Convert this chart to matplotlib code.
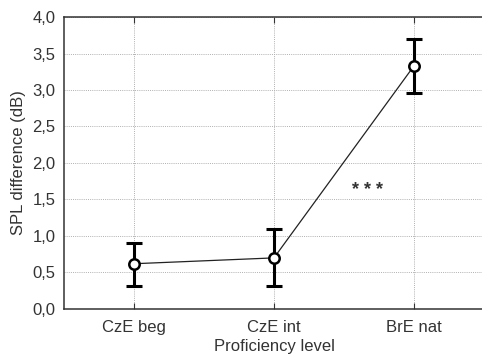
import matplotlib
matplotlib.use("Agg")
import matplotlib.pyplot as plt
from matplotlib.ticker import FuncFormatter

categories = ["CzE beg", "CzE int", "BrE nat"]
means = [0.62, 0.70, 3.33]
upper = [0.90, 1.09, 3.70]
lower = [0.32, 0.32, 2.96]
yticks = [0.0, 0.5, 1.0, 1.5, 2.0, 2.5, 3.0, 3.5, 4.0]

plt.rcParams['font.family'] = ['Liberation Sans', 'DejaVu Sans']

fig = plt.figure(figsize=(4.82, 3.58), dpi=100)
ax = fig.add_axes([0.1328, 0.1369, 0.8712, 0.8156])

x = list(range(len(categories)))
err_lo = [m - l for m, l in zip(means, lower)]
err_hi = [u - m for m, u in zip(means, upper)]

ax.plot(x, means, color='#222222', lw=0.9, zorder=2)
ax.errorbar(x, means, yerr=[err_lo, err_hi], fmt='none', ecolor='black',
            elinewidth=2.2, capsize=5.5, capthick=2.2, zorder=3)
ax.plot(x, means, 'o', ms=7.5, mfc='white', mec='black', mew=1.8, zorder=4)

ax.text(1.67, 1.63, "* * *", ha='center', va='center', fontsize=13,
        fontweight='bold', color='#333333')

ax.set_xlim(-0.5, 2.5)
ax.set_ylim(0, 4.0)
ax.set_xticks(x)
ax.set_xticklabels(categories)
ax.set_yticks(yticks)
ax.yaxis.set_major_formatter(FuncFormatter(lambda v, p: f"{v:.1f}".replace('.', ',')))

tc = '#333333'
ax.grid(True, color='#b0b0b0', linestyle=(0, (1, 1.2)), linewidth=0.7)
ax.set_axisbelow(True)
ax.tick_params(axis='x', direction='in', length=4, pad=8, top=True,
               labelsize=12, color=tc, labelcolor=tc)
ax.tick_params(axis='y', length=0, pad=6, labelsize=12, labelcolor=tc)
for s in ['left', 'bottom', 'top']:
    ax.spines[s].set_color(tc)
    ax.spines[s].set_linewidth(1.1)
ax.spines['right'].set_visible(False)

ax.set_xlabel("Proficiency level", fontsize=12, labelpad=3, color=tc)
ax.set_ylabel("SPL difference (dB)", fontsize=12, labelpad=5, color=tc)

fig.savefig("out.png", dpi=100)
